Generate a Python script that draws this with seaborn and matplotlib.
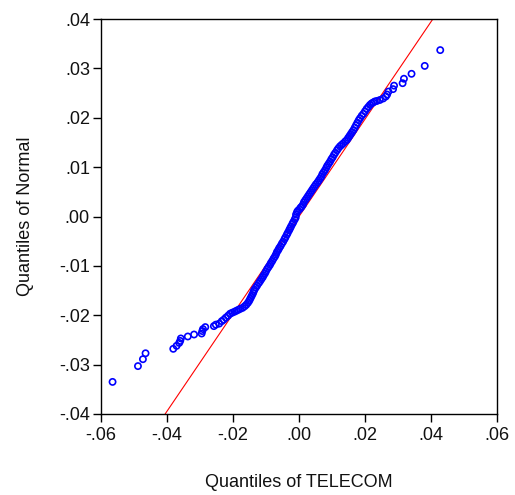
import matplotlib
matplotlib.use("Agg")
import matplotlib.pyplot as plt
import seaborn as sns
import pandas as pd

# Sample quantiles of TELECOM returns (x) against normal quantiles (y)
telecom_q = [
    -0.0565, -0.0488, -0.0473, -0.0465, -0.0381, -0.0371, -0.0363, -0.0360,
    -0.0358, -0.0337, -0.0318, -0.0295, -0.0293, -0.0291, -0.0284, -0.0258,
    -0.0252, -0.0242,
    -0.0234, -0.0228, -0.0222, -0.0215, -0.0209, -0.0203, -0.0196, -0.0190,
    -0.0184, -0.0178, -0.0171, -0.0165, -0.0160, -0.0155, -0.0151, -0.0148,
    -0.0145, -0.0142, -0.0139, -0.0137, -0.0135, -0.0131, -0.0127, -0.0122,
    -0.0118, -0.0114, -0.0110, -0.0107, -0.0103, -0.0100, -0.0096, -0.0092,
    -0.0088, -0.0085, -0.0081, -0.0077, -0.0073, -0.0070, -0.0067, -0.0063,
    -0.0060, -0.0056, -0.0052, -0.0048, -0.0044, -0.0041, -0.0037, -0.0034,
    -0.0030, -0.0027, -0.0024, -0.0020, -0.0017, -0.0013, -0.0010, -0.0009,
    -0.0006, -0.0003, 0.0002, 0.0005, 0.0008, 0.0012, 0.0015, 0.0019,
    0.0023, 0.0027, 0.0031, 0.0035, 0.0039, 0.0043, 0.0047, 0.0051,
    0.0056, 0.0060, 0.0064, 0.0068, 0.0071, 0.0075, 0.0079, 0.0083,
    0.0086, 0.0090, 0.0094, 0.0098, 0.0102, 0.0106, 0.0110, 0.0115,
    0.0119, 0.0124, 0.0129, 0.0134, 0.0140, 0.0145, 0.0149, 0.0153,
    0.0157, 0.0161, 0.0165, 0.0169, 0.0173, 0.0177, 0.0181, 0.0185,
    0.0190, 0.0195, 0.0200, 0.0205, 0.0210, 0.0215, 0.0220, 0.0225,
    0.0230,
    0.0236, 0.0245, 0.0255, 0.0263, 0.0267, 0.0271, 0.0285, 0.0288,
    0.0314, 0.0318, 0.0341, 0.0381, 0.0428,
]
normal_q = [
    -0.0335, -0.0303, -0.0289, -0.0277, -0.0268, -0.0262, -0.0256, -0.0252,
    -0.0247, -0.0243, -0.0239, -0.0237, -0.0232, -0.0228, -0.0224, -0.0222,
    -0.0219, -0.0217,
    -0.0212, -0.0209, -0.0205, -0.0201, -0.0197, -0.0195, -0.0193, -0.0191,
    -0.0189, -0.0187, -0.0185, -0.0182, -0.0179, -0.0175, -0.0171, -0.0167,
    -0.0163, -0.0159, -0.0155, -0.0151, -0.0148, -0.0144, -0.0140, -0.0135,
    -0.0131, -0.0127, -0.0123, -0.0119, -0.0115, -0.0111, -0.0106, -0.0102,
    -0.0098, -0.0094, -0.0090, -0.0085, -0.0081, -0.0077, -0.0072, -0.0068,
    -0.0064, -0.0060, -0.0055, -0.0051, -0.0046, -0.0042, -0.0037, -0.0033,
    -0.0028, -0.0024, -0.0020, -0.0015, -0.0011, -0.0006, -0.0002, 0.0004,
    0.0009, 0.0012, 0.0015, 0.0018, 0.0020, 0.0024, 0.0029, 0.0033,
    0.0037, 0.0041, 0.0045, 0.0049, 0.0053, 0.0057, 0.0061, 0.0065,
    0.0069, 0.0073, 0.0077, 0.0081, 0.0086, 0.0090, 0.0094, 0.0099,
    0.0103, 0.0107, 0.0111, 0.0116, 0.0120, 0.0125, 0.0129, 0.0134,
    0.0138, 0.0142, 0.0145, 0.0148, 0.0152, 0.0155, 0.0159, 0.0163,
    0.0167, 0.0171, 0.0175, 0.0180, 0.0185, 0.0190, 0.0195, 0.0199,
    0.0204, 0.0208, 0.0213, 0.0218, 0.0222, 0.0226, 0.0229, 0.0231,
    0.0233,
    0.0234, 0.0236, 0.0239, 0.0243, 0.0247, 0.0253, 0.0258, 0.0265,
    0.0270, 0.0279, 0.0289, 0.0305, 0.0337,
]

# Reference line through the quantile pairs
line_slope = 0.986
line_intercept = 0.0

x_ticks = [-0.06, -0.04, -0.02, 0.00, 0.02, 0.04, 0.06]
x_tick_labels = ["-.06", "-.04", "-.02", ".00", ".02", ".04", ".06"]
y_ticks = [-0.04, -0.03, -0.02, -0.01, 0.00, 0.01, 0.02, 0.03, 0.04]
y_tick_labels = ["-.04", "-.03", "-.02", "-.01", ".00", ".01", ".02", ".03", ".04"]

sns.set_style("white")
plt.rcParams["font.family"] = ["Liberation Sans", "DejaVu Sans"]

df = pd.DataFrame({"TELECOM": telecom_q, "Normal": normal_q})

fig = plt.figure(figsize=(5.15, 4.95), dpi=100)
ax = fig.add_axes([101 / 515, 1 - 414 / 495, 396 / 515, 395 / 495])

ax.axline((0.0, line_intercept), slope=line_slope, color="#ff0000",
          linewidth=0.8, zorder=1)
sns.scatterplot(data=df, x="TELECOM", y="Normal", ax=ax, marker="o",
                s=20, facecolors="none", edgecolor="#0000ff",
                linewidth=1.2, zorder=2)

ax.set_xlim(-0.06, 0.06)
ax.set_ylim(-0.04, 0.04)
ax.set_xticks(x_ticks)
ax.set_xticklabels(x_tick_labels)
ax.set_yticks(y_ticks)
ax.set_yticklabels(y_tick_labels)

for side in ["left", "right", "top", "bottom"]:
    ax.spines[side].set_visible(True)
    ax.spines[side].set_color("black")
    ax.spines[side].set_linewidth(1.0)

ax.tick_params(axis="both", which="both", direction="out", length=6,
               width=1.0, color="black", labelsize=13, labelcolor="#111111",
               left=True, bottom=True, top=False, right=False)
ax.tick_params(axis="y", pad=2)
ax.tick_params(axis="x", pad=3)

ax.set_xlabel("Quantiles of TELECOM", fontsize=13, color="#111111", labelpad=22)
ax.set_ylabel("Quantiles of Normal", fontsize=13, color="#111111", labelpad=18)

fig.savefig("out.png", dpi=100)
